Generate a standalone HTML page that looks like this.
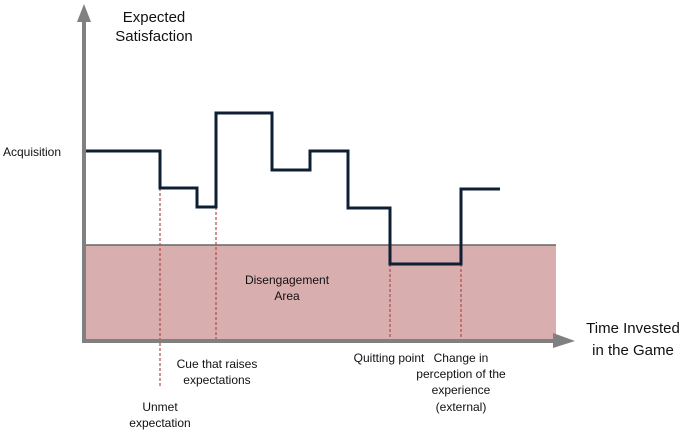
<!DOCTYPE html>
<html><head><style>
body{margin:0;background:#fff;}
svg{display:block;font-family:"Liberation Sans",Arial,sans-serif;}
</style></head><body>
<svg width="691" height="431" viewBox="0 0 691 431">
<rect x="84" y="245" width="472" height="95" fill="#d9aeae"/>
<line x1="84" y1="245" x2="556" y2="245" stroke="#666" stroke-width="1.5"/>
<g stroke="#b04a4a" stroke-width="1.2" stroke-dasharray="3,2" fill="none">
<line x1="160" y1="188" x2="160" y2="388"/>
<line x1="216" y1="207" x2="216" y2="340"/>
<line x1="390" y1="264" x2="390" y2="340"/>
<line x1="461" y1="264" x2="461" y2="340"/>
</g>
<line x1="84" y1="341" x2="556" y2="341" stroke="#808080" stroke-width="4"/>
<polygon points="553,333 575,341 553,348" fill="#808080"/>
<line x1="84" y1="20" x2="84" y2="343" stroke="#808080" stroke-width="4"/>
<polygon points="77,22 84,4 91,22" fill="#808080"/>
<polyline points="86,151 160,151 160,188 197,188 197,207 216,207 216,113 272,113 272,170 310,170 310,151 348,151 348,208 390,208 390,264 461,264 461,189 500,189" fill="none" stroke="#0f1f33" stroke-width="3"/>
<g fill="#111" font-size="15" text-anchor="middle">
<text x="154" y="22">Expected</text>
<text x="154" y="41">Satisfaction</text>
<text x="633" y="333">Time Invested</text>
<text x="633" y="355">in the Game</text>
</g>
<g fill="#111" font-size="12" text-anchor="middle">
<text x="32" y="156">Acquisition</text>
<text x="287" y="284">Disengagement</text>
<text x="287" y="300">Area</text>
<text x="217" y="368">Cue that raises</text>
<text x="217" y="384">expectations</text>
<text x="389" y="362">Quitting point</text>
<text x="461" y="362">Change in</text>
<text x="461" y="378">perception of the</text>
<text x="461" y="394">experience</text>
<text x="461" y="411">(external)</text>
<text x="160" y="411">Unmet</text>
<text x="160" y="427">expectation</text>
</g>
</svg>
</body></html>
